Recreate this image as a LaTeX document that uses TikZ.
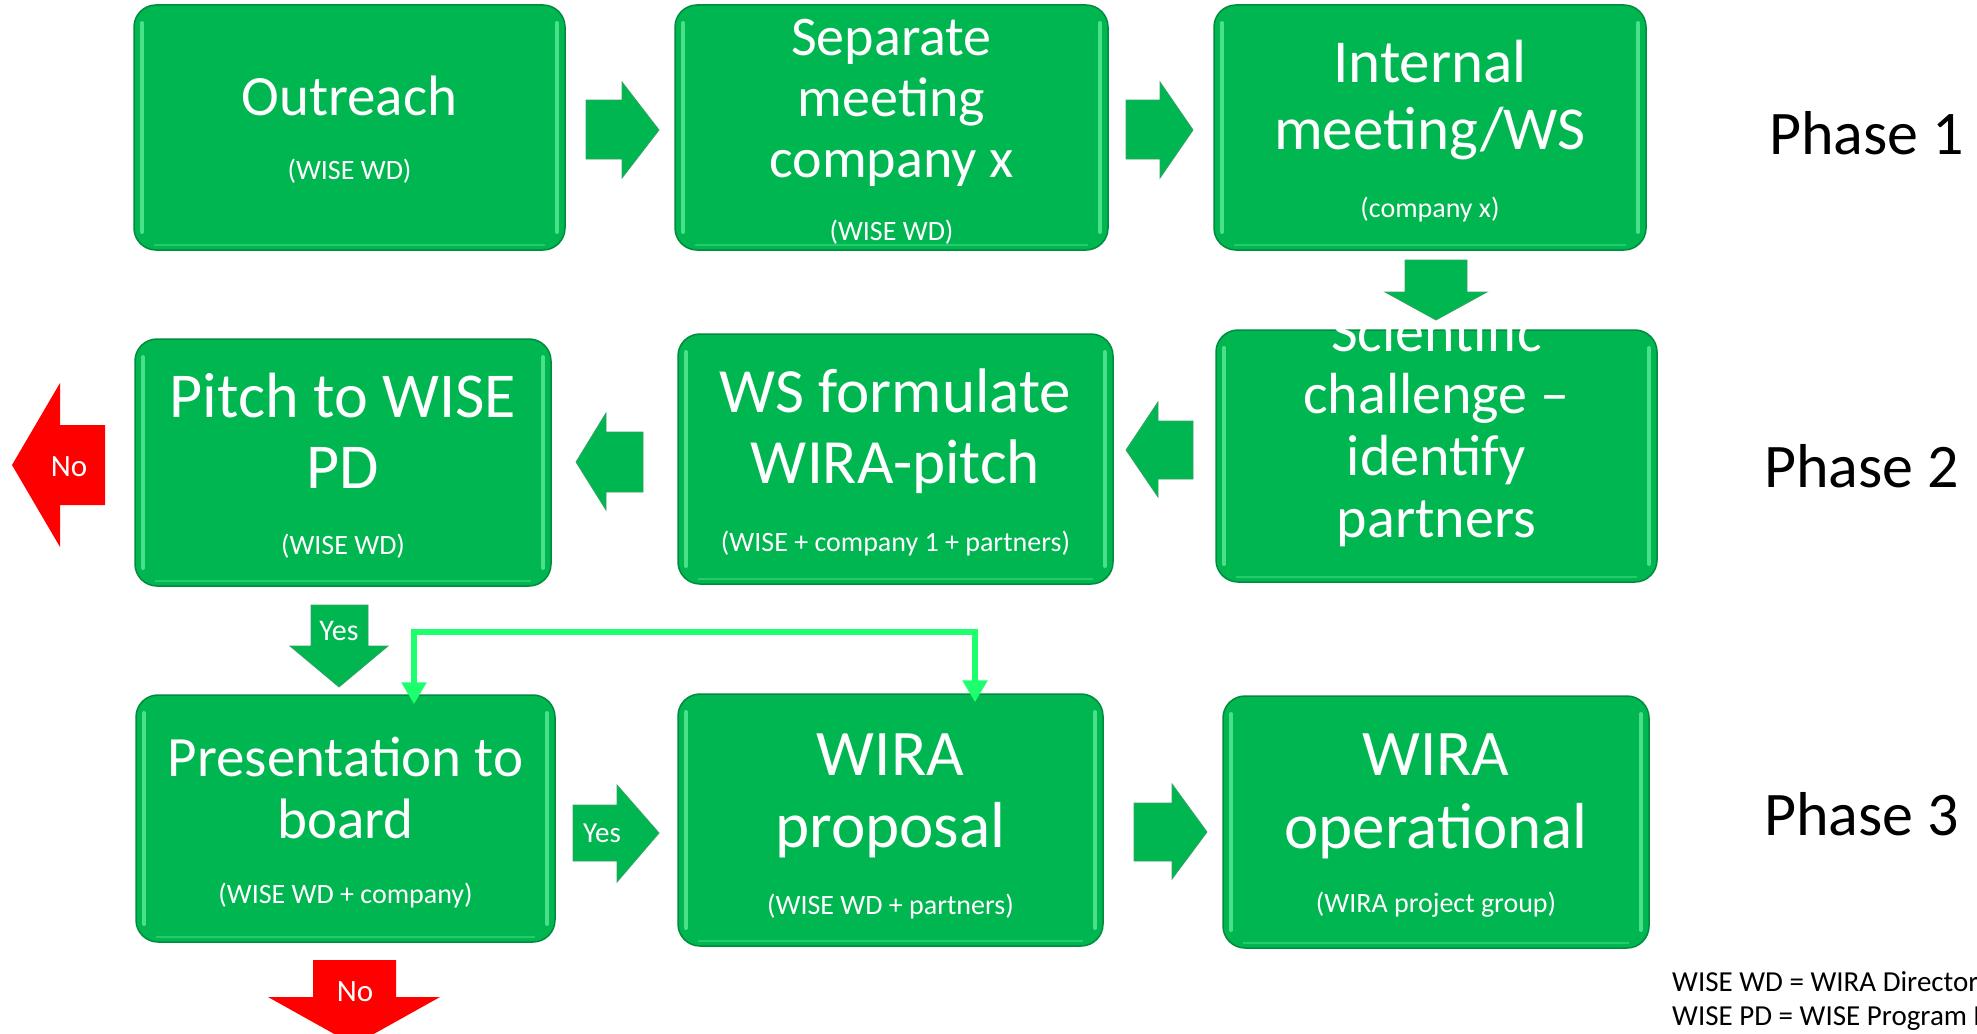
\documentclass[tikz,border=0pt]{standalone}
\usepackage{fontspec}
\setmainfont{Carlito}
\usetikzlibrary{arrows.meta}
\definecolor{boxgreen}{RGB}{0,182,80}
\definecolor{edgegreen}{RGB}{0,140,62}
\definecolor{shinegreen}{RGB}{120,255,175}
\definecolor{linkgreen}{RGB}{30,255,110}
\definecolor{nored}{RGB}{255,0,0}
\newcommand{\boxtext}[3]{\fontsize{#1}{#2}\selectfont\begin{tabular}[t]{@{}c@{}}#3\end{tabular}}
\tikzset{
  box/.style 2 args = {rectangle, rounded corners=22pt, fill=boxgreen,
                draw=edgegreen, line width=1.5pt, inner sep=0pt,
                minimum width=#1pt, minimum height=#2pt,
                path picture={
                  \draw[shinegreen, opacity=0.6, line width=4pt, line cap=round]
                    ([xshift=8pt,yshift=18pt]path picture bounding box.south west) --
                    ([xshift=8pt,yshift=-18pt]path picture bounding box.north west)
                    ([xshift=-8pt,yshift=18pt]path picture bounding box.south east) --
                    ([xshift=-8pt,yshift=-18pt]path picture bounding box.north east);
                  \draw[shinegreen, opacity=0.3, line width=2pt]
                    ([xshift=20pt,yshift=5pt]path picture bounding box.south west) --
                    ([xshift=-20pt,yshift=5pt]path picture bounding box.south east);}},
  title/.style = {text=white, anchor=base, inner sep=0pt},
  sub/.style = {text=white, anchor=base, inner sep=0pt, font=\fontsize{28}{34}\selectfont},
  blockarrow/.style = {fill=boxgreen, draw=edgegreen!80, line width=0.8pt},
  noarrow/.style = {fill=nored},
  arrowtext/.style = {text=white, anchor=base, inner sep=0pt, font=\fontsize{#1}{34}\selectfont},
  arrowtext/.default = 30,
  phase/.style = {anchor=base west, inner sep=0pt, font=\fontsize{62}{74}\selectfont},
  link/.style = {draw=linkgreen, line width=6pt,
                 {Triangle[width=24pt,length=22pt]}-{Triangle[width=24pt,length=22pt]}}
}

\begin{document}
\begin{tikzpicture}[x=1pt, y=-1pt]
	\useasboundingbox (0,0) rectangle (1977,1033);

	% Boxes
	\node[box={431}{245}] (outreach) at (349.5,127.5) {};
	\node[box={433}{245}] (separate) at (891.5,127.5) {};
	\node[box={432}{245}] (internal) at (1430,127.5) {};
	\node[box={416}{247}] (pitch) at (343,462.5) {};
	\node[box={435}{250}] (formulate) at (895.5,459) {};
	\node[box={441}{252}] (scientific) at (1436.5,456) {};
	\node[box={419}{247}] (presentation) at (345.5,818.5) {};
	\node[box={425}{252}] (proposal) at (890.5,820) {};
	\node[box={426}{252}] (operational) at (1436,822) {};

	% Box texts
	\node[title] (outreach-t) at (349.5,115) {\boxtext{57}{66}{Outreach}};
	\node[sub] (outreach-s) at (349.5,179) {(WISE WD)};
	\node[title] (separate-t) at (891.5,56) {\boxtext{56}{61}{Separate\\meeting\\company x}};
	\node[sub] (separate-s) at (891.5,240) {(WISE WD)};
	\node[title] (internal-t) at (1430,82) {\boxtext{61}{67}{Internal\\meeting/WS}};
	\node[sub] (internal-s) at (1430,217) {(company x)};
	\node[title] (pitch-t) at (343,417) {\boxtext{64}{71}{Pitch to WISE\\PD}};
	\node[sub] (pitch-s) at (343,554) {(WISE WD)};
	\node[title] (formulate-t) at (895.5,412) {\boxtext{63}{71}{WS formulate\\WIRA-pitch}};
	\node[sub] (formulate-s) at (895.5,551) {(WISE + company 1 + partners)};
	\node[title] (scientific-t) at (1436.5,351) {\boxtext{58}{62}{Scientific\\challenge –\\identify\\partners}};
	\node[title] (presentation-t) at (345.5,776) {\boxtext{57}{62}{Presentation to\\board}};
	\node[sub] (presentation-s) at (345.5,903) {(WISE WD + company)};
	\node[title] (proposal-t) at (890.5,775) {\boxtext{65}{72}{WIRA\\proposal}};
	\node[sub] (proposal-s) at (890.5,914) {(WISE WD + partners)};
	\node[title] (operational-t) at (1436,775) {\boxtext{65}{73}{WIRA\\operational}};
	\node[sub] (operational-s) at (1436,912) {(WIRA project group)};

	% Block arrows, phase 1
	\draw[blockarrow] (586,100) -- (622,100) -- (622,82) -- (659,130) -- (622,178) -- (622,159) -- (586,159) -- cycle;
	\draw[blockarrow] (1126,100) -- (1160,100) -- (1160,82) -- (1193,130) -- (1160,178) -- (1160,159) -- (1126,159) -- cycle;
	\draw[blockarrow] (1405,260) -- (1467,260) -- (1467,292) -- (1487,292) -- (1436,320) -- (1385,292) -- (1405,292) -- cycle;

	% Block arrows, phase 2
	\draw[blockarrow] (1193,421) -- (1158,421) -- (1158,402) -- (1126,450) -- (1158,497) -- (1158,479) -- (1193,479) -- cycle;
	\draw[blockarrow] (643,432) -- (606,432) -- (606,413) -- (576,462) -- (606,510) -- (606,492) -- (643,492) -- cycle;
	\fill[noarrow] (105,425) -- (60,425) -- (60,383) -- (12,465) -- (60,547) -- (60,505) -- (105,505) -- cycle;
	\node[arrowtext=31] (no-left) at (69,476) {No};

	% Block arrows, phase 3
	\draw[blockarrow] (311,605) -- (368,605) -- (368,646) -- (388,646) -- (339,687) -- (290,646) -- (311,646) -- cycle;
	\node[arrowtext] (yes-down) at (339,640) {Yes};
	\draw[blockarrow] (573,805) -- (617,805) -- (617,785) -- (659,833) -- (617,882) -- (617,861) -- (573,861) -- cycle;
	\node[arrowtext=29] (yes-right) at (602,842) {Yes};
	\draw[blockarrow] (1134,803) -- (1172,803) -- (1172,784) -- (1207,832) -- (1172,879) -- (1172,861) -- (1134,861) -- cycle;
	\fill[noarrow] (313,960) -- (396,960) -- (396,997) -- (440,997) -- (354,1045) -- (268,997) -- (313,997) -- cycle;
	\node[arrowtext=31] (no-down) at (355,1001) {No};

	% Link between presentation and proposal
	\draw[link] ([xshift=68.5pt,yshift=-10pt]presentation.north) -- ++(0,-72) -| ([xshift=84.5pt,yshift=-9pt]proposal.north);

	% Phases
	\node[phase] (phase1) at (1769,154) {Phase 1};
	\node[phase] (phase2) at (1764,487) {Phase 2};
	\node[phase] (phase3) at (1764,835) {Phase 3};

	% Legend
	\node[anchor=base west, inner sep=0pt] (legend) at (1672,991)
	  {\fontsize{29}{34}\selectfont\begin{tabular}[t]{@{}l@{}}WISE WD = WIRA Director\\WISE PD = WISE Program Director\end{tabular}};
\end{tikzpicture}
\end{document}
